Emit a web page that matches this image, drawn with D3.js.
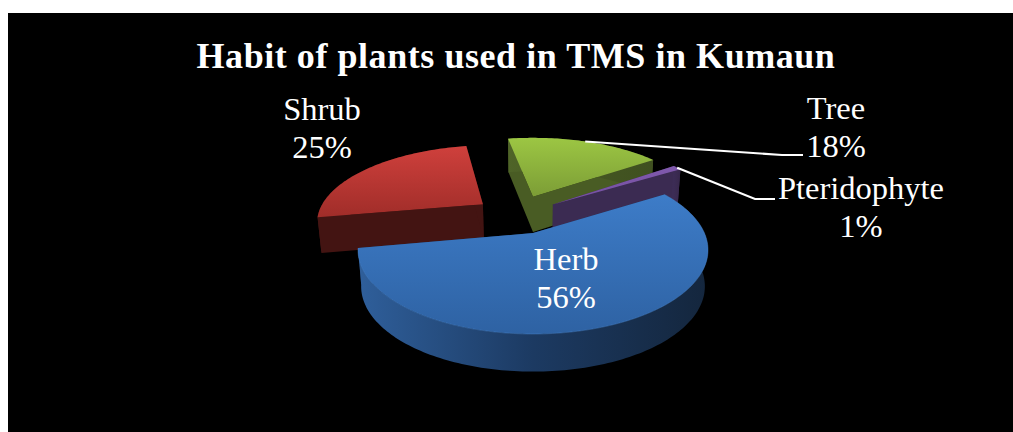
<!DOCTYPE html>
<html><head><meta charset="utf-8">
<style>html,body{margin:0;padding:0;background:#fff}svg{display:block}text{font-family:"Liberation Serif",serif;fill:#fff}</style>
<script src="https://cdn.jsdelivr.net/npm/d3@7/dist/d3.min.js"></script>
</head><body><div id="c"></div>
<script>
const title = "Habit of plants used in TMS in Kumaun";
const categories = ["Herb","Shrub","Tree","Pteridophyte"];
const values = [56,25,18,1];
const labels = ["56%","25%","18%","1%"];
const topColors = [["#3d7cc8","#2e62a3"],["#cf403c","#a02d29"],["#9cc643","#7c9d36"],["#8059ad","#7450a0"]];
const sideColors = [["#2f5f9b","#1c3a62","#14263d"],["#431412","#431412","#431412"],["#4f6428","#455722","#3f5020"],["#3c2c55","#3a2a50","#35264a"]];
const cutColors = ["#1c3a62","#431412","#495c24","#3b2b52"];

const W=1013,H=432;
const svg=d3.select("#c").append("svg").attr("width",W).attr("height",H);
svg.append("rect").attr("width",W).attr("height",H).attr("fill","#fff");
svg.append("rect").attr("x",8).attr("y",13).attr("width",W-8).attr("height",H-13).attr("fill","#000");

// perspective projection of the unit disc
const cx=533,cy=233,A=171.4,B=80.6,k=0.202;
const project=(u,v)=>{const w=1+k*v;return [cx+A*u/w,cy-B*v/w,w];};
const depth=w=>44-8*w;
const lower=p=>[cx+(p[0]-cx)*0.982,p[1]+depth(p[2])];

const pie=d3.pie().sort(null).value(d=>d).startAngle(58*Math.PI/180).endAngle((58+360)*Math.PI/180);
const arcs=pie(values);
const explode=[[0,0],[-0.315,0.385],[0,0.495],[0.125,0.38]];
const radius=[1,1.01,1.055,1.06];
const labelPos=[[566,270],[322,120],[836,119],[861,199]];
const lineH=38;
const leaders={2:[[782,155],[803,155]],3:[[755,199],[775,199]]};

const defs=svg.append("defs");
const line=d3.line();
const xy=p=>p.slice(0,2);
const slices=arcs.map((a,i)=>{
  const [ox,oy]=explode[i],r=radius[i];
  const n=Math.max(4,Math.ceil((a.endAngle-a.startAngle)/0.02));
  const pts=d3.range(n+1).map(j=>{
    const t=a.startAngle+(a.endAngle-a.startAngle)*j/n;
    return project(r*Math.sin(t)+ox,r*Math.cos(t)+oy);
  });
  return {i,apex:project(ox,oy),pts,ox,oy,r,a};
});

// side walls, far slices first, herb last
[1,2,3,0].forEach(i=>{
  const s=slices[i];
  const g=svg.append("g");
  const xs=s.pts.map(p=>p[0]);
  const x0=d3.min(xs),x1=d3.max(xs);
  const lg=defs.append("linearGradient").attr("id","side"+i).attr("gradientUnits","userSpaceOnUse")
    .attr("x1",x0).attr("x2",x1).attr("y1",0).attr("y2",0);
  sideColors[i].forEach((c,j)=>lg.append("stop").attr("offset",j/2).attr("stop-color",c));
  const quad=(p,q,fill)=>g.append("path").attr("d",line([xy(p),xy(q),lower(q),lower(p)])+"Z").attr("fill",fill);
  quad(s.apex,s.pts[0],cutColors[i]);
  quad(s.apex,s.pts[s.pts.length-1],cutColors[i]);
  g.append("path").attr("d",line([...s.pts.map(xy),...s.pts.map(lower).reverse()])+"Z").attr("fill",`url(#side${i})`);
});

// top faces
[1,2,3,0].forEach(i=>{
  const s=slices[i];
  const ys=s.pts.map(p=>p[1]).concat(s.apex[1]);
  const id="top"+i;
  const lg=defs.append("linearGradient").attr("id",id).attr("gradientUnits","userSpaceOnUse")
    .attr("x1",0).attr("x2",0).attr("y1",d3.min(ys)).attr("y2",d3.max(ys));
  lg.append("stop").attr("offset",0).attr("stop-color",topColors[i][0]);
  lg.append("stop").attr("offset",1).attr("stop-color",topColors[i][1]);
  svg.append("path").attr("d",line([xy(s.apex),...s.pts.map(xy)])+"Z").attr("fill",`url(#${id})`);
  if(i===0) svg.append("path").attr("d",line(s.pts.map(xy))).attr("fill","none").attr("stroke","#4a86cf").attr("stroke-width",0.7).attr("stroke-opacity",0.6);
});

// leader lines
Object.keys(leaders).forEach(key=>{
  const i=+key,s=slices[i];
  const m=(s.a.startAngle+s.a.endAngle)/2;
  const p=project(s.r*Math.sin(m)+s.ox,s.r*Math.cos(m)+s.oy);
  svg.append("path").attr("d",line([xy(p),...leaders[i]])).attr("fill","none").attr("stroke","#fff").attr("stroke-width",2.2);
});

// text
svg.append("text").attr("x",516).attr("y",68).attr("text-anchor","middle").attr("font-size",36).attr("font-weight","bold").attr("letter-spacing",0.55).text(title);
categories.forEach((c,i)=>{
  const [x,y]=labelPos[i];
  const t=svg.append("text").attr("text-anchor","middle").attr("font-size",32.5);
  t.append("tspan").attr("x",x).attr("y",y).text(c);
  t.append("tspan").attr("x",x).attr("y",y+lineH).text(labels[i]);
});
</script></body></html>
